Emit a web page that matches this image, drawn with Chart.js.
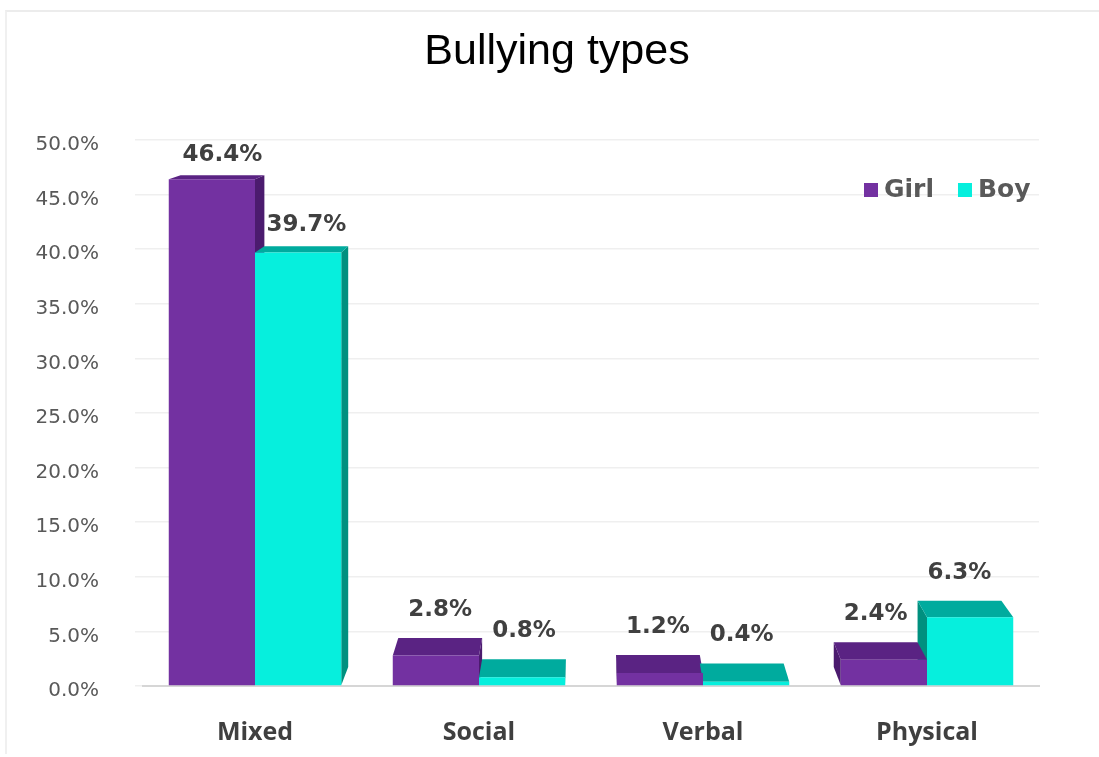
<!DOCTYPE html>
<html>
<head>
<meta charset="utf-8">
<script src="https://cdn.jsdelivr.net/npm/chart.js@4.4.0/dist/chart.umd.min.js"></script>
<style>
  body { margin: 0; background: #fff; }
  #frame { position: absolute; left: 5px; top: 10px; width: 1200px; height: 742px; border-top: 2px solid #ececec; border-left: 2px solid #f0f0f0; }
  #wrap { position: absolute; left: 0; top: 0; width: 1099px; height: 757px; }
</style>
</head>
<body>
<div id="frame"></div>
<div id="wrap"><canvas id="bullyChart"></canvas></div>
<script>
const chartTitle = 'Bullying types';
const categories = ['Mixed', 'Social', 'Verbal', 'Physical'];
const girlValues = [46.4, 2.8, 1.2, 2.4];
const boyValues = [39.7, 0.8, 0.4, 6.3];
const seriesNames = ['Girl', 'Boy'];

// front / top / side colours per series
const shades = [
    {front: '#7331a1', top: '#5a2383', side: '#4b1b6e'},
    {front: '#06efdd', top: '#00ab9e', side: '#00907f'}
];

// fake perspective: back face is pulled toward this point
const vanish = {x: 590, y: 30};
const depth = 0.028;

function toBack(x, y) {
    return [x + (vanish.x - x) * depth, y + (vanish.y - y) * depth];
}

function poly(ctx, pts, color) {
    ctx.beginPath();
    ctx.moveTo(pts[0][0], pts[0][1]);
    for (let i = 1; i < pts.length; i++) ctx.lineTo(pts[i][0], pts[i][1]);
    ctx.closePath();
    ctx.fillStyle = color;
    ctx.fill();
}

function barRects(chart) {
    const out = [];
    chart.data.datasets.forEach((ds, di) => {
        chart.getDatasetMeta(di).data.forEach((bar, i) => {
            const p = bar.getProps(['x', 'y', 'base', 'width'], true);
            out.push({di: di, i: i, x1: p.x - p.width / 2, x2: p.x + p.width / 2, top: p.y, base: p.base});
        });
    });
    return out;
}

const bars3d = {
    id: 'bars3d',
    beforeDatasetsDraw(chart) {
        const ctx = chart.ctx;
        const rects = barRects(chart);
        ctx.save();
        // side faces first
        rects.forEach(r => {
            const c = shades[r.di];
            if (r.x2 < vanish.x) {
                poly(ctx, [[r.x2, r.top], [r.x2, r.base], toBack(r.x2, r.base), toBack(r.x2, r.top)], c.side);
            } else if (r.x1 > vanish.x) {
                poly(ctx, [[r.x1, r.top], [r.x1, r.base], toBack(r.x1, r.base), toBack(r.x1, r.top)], c.side);
            }
        });
        // then tops
        rects.forEach(r => {
            const c = shades[r.di];
            poly(ctx, [[r.x1, r.top], [r.x2, r.top], toBack(r.x2, r.top), toBack(r.x1, r.top)], c.top);
        });
        ctx.restore();
    },
    afterDatasetsDraw(chart) {
        const ctx = chart.ctx;
        ctx.save();
        ctx.font = 'bold 23px "DejaVu Sans"';
        ctx.fillStyle = '#404040';
        ctx.textAlign = 'center';
        ctx.textBaseline = 'middle';
        barRects(chart).forEach(r => {
            const v = chart.data.datasets[r.di].data[r.i];
            const b = toBack((r.x1 + r.x2) / 2, r.top);
            const dy = r.top - b[1];
            ctx.fillText(v.toFixed(1) + '%', b[0], b[1] - 17.5 - 0.6 * dy);
        });
        ctx.restore();
    },
    afterDraw(chart) {
        const ctx = chart.ctx;
        ctx.save();
        // title
        ctx.font = '43px "Liberation Sans"';
        ctx.fillStyle = '#000';
        ctx.textAlign = 'center';
        ctx.textBaseline = 'middle';
        ctx.fillText(chartTitle, 557, 52);
        // legend, top right
        ctx.font = 'bold 25px "DejaVu Sans"';
        ctx.textAlign = 'left';
        let x = 864;
        const y = 190;
        chart.data.datasets.forEach((ds, di) => {
            ctx.fillStyle = shades[di].front;
            ctx.fillRect(x, y - 7, 14, 14);
            ctx.fillStyle = '#595959';
            ctx.fillText(ds.label, x + 20, y);
            x += 20 + ctx.measureText(ds.label).width + 24;
        });
        ctx.restore();
    }
};

new Chart(document.getElementById('bullyChart'), {
    type: 'bar',
    data: {
        labels: categories,
        datasets: [
            {label: seriesNames[0], data: girlValues, backgroundColor: shades[0].front},
            {label: seriesNames[1], data: boyValues, backgroundColor: shades[1].front}
        ]
    },
    options: {
        responsive: true,
        maintainAspectRatio: false,
        animation: false,
        datasets: {
            bar: {categoryPercentage: 0.77, barPercentage: 1}
        },
        layout: {
            padding: {left: 0, right: 60, top: 140, bottom: 0}
        },
        plugins: {
            legend: {display: false},
            tooltip: {enabled: false},
            title: {display: false}
        },
        scales: {
            x: {
                grid: {display: false},
                border: {display: true, color: '#d6d6d6', width: 2},
                ticks: {
                    color: '#3f3f3f',
                    padding: 24,
                    font: {family: '"Open Sans"', size: 25, weight: 'bold'}
                },
                afterFit: s => { s.height = 71; }
            },
            y: {
                min: 0,
                max: 50,
                grid: {color: '#efefef', lineWidth: 1.5},
                border: {display: false},
                ticks: {
                    stepSize: 5,
                    color: '#595959',
                    padding: 36,
                    labelOffset: 5,
                    font: {family: '"DejaVu Sans"', size: 20},
                    callback: v => v.toFixed(1) + '%'
                },
                afterFit: s => { s.width = 143; }
            }
        }
    },
    plugins: [bars3d]
});
</script>
</body>
</html>
